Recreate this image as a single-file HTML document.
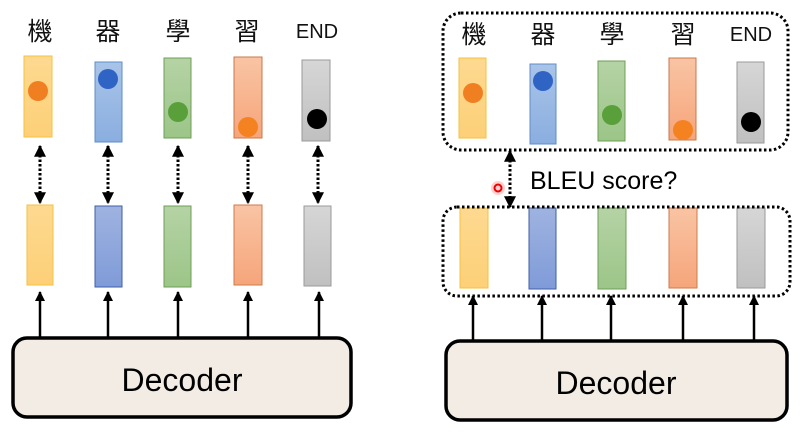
<!DOCTYPE html>
<html><head><meta charset="utf-8"><style>
html,body{margin:0;padding:0;background:#fff;}
svg{display:block;}
</style></head><body>
<svg width="810" height="433" viewBox="0 0 810 433" xmlns="http://www.w3.org/2000/svg">
<defs>
<marker id="ah" viewBox="0 0 10 10" refX="9" refY="5" markerWidth="4" markerHeight="4" orient="auto-start-reverse"><path d="M0,0L10,5L0,10z" fill="#000"/></marker>
<linearGradient id="gy" x1="0" y1="0" x2="0" y2="1"><stop offset="0" stop-color="#fdd990"/><stop offset="1" stop-color="#fdd078"/></linearGradient>
<linearGradient id="gb" x1="0" y1="0" x2="0" y2="1"><stop offset="0" stop-color="#a9c4e8"/><stop offset="1" stop-color="#8aaee0"/></linearGradient>
<linearGradient id="gb2" x1="0" y1="0" x2="0" y2="1"><stop offset="0" stop-color="#9fb3e0"/><stop offset="1" stop-color="#7f9bd8"/></linearGradient>
<linearGradient id="gg" x1="0" y1="0" x2="0" y2="1"><stop offset="0" stop-color="#b5d3a5"/><stop offset="1" stop-color="#9cc588"/></linearGradient>
<linearGradient id="go" x1="0" y1="0" x2="0" y2="1"><stop offset="0" stop-color="#f9c4a4"/><stop offset="1" stop-color="#f6a57a"/></linearGradient>
<linearGradient id="gr" x1="0" y1="0" x2="0" y2="1"><stop offset="0" stop-color="#d6d6d6"/><stop offset="1" stop-color="#c0c0c0"/></linearGradient>
</defs>
<g font-family="'Liberation Sans','Noto Sans CJK TC',sans-serif" font-size="25" text-anchor="middle" fill="#111">
<text x="40" y="40">機</text><text x="108" y="40">器</text><text x="178" y="40">學</text><text x="247" y="40">習</text><text x="317" y="38" font-size="20">END</text>
<text x="474" y="43">機</text><text x="543" y="43">器</text><text x="612" y="43">學</text><text x="683" y="43">習</text><text x="751" y="41" font-size="20">END</text>
</g>
<g stroke-width="1">
<rect x="24" y="56" width="28" height="81" fill="url(#gy)" stroke="#f5c242"/>
<rect x="95" y="62" width="27" height="80" fill="url(#gb)" stroke="#5f8cc8"/>
<rect x="164" y="58" width="27" height="80" fill="url(#gg)" stroke="#6e9f55"/>
<rect x="234" y="57" width="28" height="81" fill="url(#go)" stroke="#c9774a"/>
<rect x="302" y="60" width="28" height="81" fill="url(#gr)" stroke="#9a9a9a"/>
<rect x="459" y="58" width="27" height="80" fill="url(#gy)" stroke="#f5c242"/>
<rect x="530" y="64" width="26" height="80" fill="url(#gb)" stroke="#5f8cc8"/>
<rect x="598" y="61" width="27" height="80" fill="url(#gg)" stroke="#6e9f55"/>
<rect x="669" y="58" width="27" height="82" fill="url(#go)" stroke="#c9774a"/>
<rect x="737" y="62" width="27" height="81" fill="url(#gr)" stroke="#9a9a9a"/>
<rect x="27" y="205" width="26" height="80" fill="url(#gy)" stroke="#f5c242"/>
<rect x="95" y="206" width="27" height="81" fill="url(#gb2)" stroke="#3f5fa8"/>
<rect x="164" y="206" width="27" height="81" fill="url(#gg)" stroke="#6e9f55"/>
<rect x="234" y="205" width="28" height="80" fill="url(#go)" stroke="#d07a4a"/>
<rect x="304" y="206" width="27" height="80" fill="url(#gr)" stroke="#9a9a9a"/>
<rect x="460" y="208" width="28" height="80" fill="url(#gy)" stroke="#f5c242"/>
<rect x="529" y="208" width="27" height="81" fill="url(#gb2)" stroke="#3f5fa8"/>
<rect x="598" y="208" width="28" height="81" fill="url(#gg)" stroke="#6e9f55"/>
<rect x="669" y="208" width="28" height="80" fill="url(#go)" stroke="#d07a4a"/>
<rect x="737" y="208" width="28" height="80" fill="url(#gr)" stroke="#9a9a9a"/>
</g>
<g>
<circle cx="38" cy="91" r="10" fill="#f07f22"/><circle cx="108" cy="79" r="10" fill="#2f64c5"/><circle cx="178" cy="112" r="10" fill="#59a03a"/><circle cx="248" cy="127" r="10" fill="#f58221"/><circle cx="317" cy="119" r="10" fill="#000"/>
<circle cx="473" cy="93" r="10" fill="#f07f22"/><circle cx="543" cy="81" r="10" fill="#2f64c5"/><circle cx="612" cy="115" r="10" fill="#59a03a"/><circle cx="683" cy="130" r="10" fill="#f58221"/><circle cx="751" cy="122" r="10" fill="#000"/>
</g>
<g stroke="#000" stroke-width="3" stroke-dasharray="2.5 2" marker-start="url(#ah)" marker-end="url(#ah)">
<line x1="40" y1="146" x2="40" y2="203"/><line x1="108" y1="146" x2="108" y2="203"/><line x1="178" y1="146" x2="178" y2="203"/><line x1="248" y1="146" x2="248" y2="203"/><line x1="318" y1="146" x2="318" y2="203"/>
<line x1="510" y1="151" x2="510" y2="207"/>
</g>
<g fill="none" stroke="#000" stroke-width="3" stroke-dasharray="2.5 2.5">
<rect x="443" y="13" width="345" height="137" rx="18"/>
<rect x="443" y="207" width="347" height="89" rx="14"/>
</g>
<g stroke="#000" stroke-width="2.5" marker-end="url(#ah)">
<line x1="40" y1="337" x2="40" y2="292"/><line x1="108" y1="337" x2="108" y2="292"/><line x1="178" y1="337" x2="178" y2="292"/><line x1="248" y1="337" x2="248" y2="292"/><line x1="319" y1="337" x2="319" y2="292"/>
<line x1="473" y1="340" x2="473" y2="296"/><line x1="542" y1="340" x2="542" y2="296"/><line x1="611" y1="340" x2="611" y2="296"/><line x1="683" y1="340" x2="683" y2="296"/><line x1="754" y1="340" x2="754" y2="296"/>
</g>
<rect x="13" y="338" width="338" height="79" rx="14" fill="#f3ece4" stroke="#000" stroke-width="3.5"/>
<rect x="446" y="341" width="341" height="79" rx="14" fill="#f3ece4" stroke="#000" stroke-width="3.5"/>
<g font-family="'Liberation Sans',sans-serif" font-size="32" fill="#000" text-anchor="middle">
<text x="182" y="391">Decoder</text><text x="616" y="394">Decoder</text>
</g>
<text x="530" y="189" font-family="'Liberation Sans',sans-serif" font-size="25" fill="#000">BLEU score?</text>
<circle cx="498" cy="188" r="7" fill="#ffb0b0" opacity="0.6"/>
<circle cx="498" cy="188" r="3.5" fill="none" stroke="#e00" stroke-width="2"/>
</svg>
</body></html>
